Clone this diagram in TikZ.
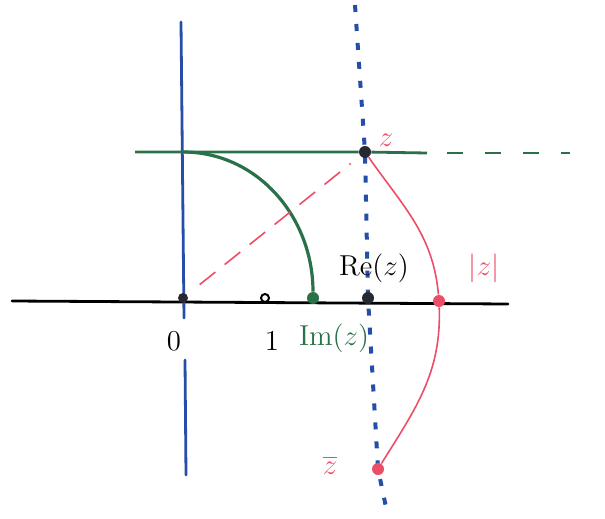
\documentclass[tikz,border=0pt]{standalone}
\usepackage{amsmath,amssymb}
\usepackage{xcolor}
\usepackage{tikz}
\usetikzlibrary{arrows.meta,positioning,calc}
\definecolor{zblue}{RGB}{38,78,168}
\definecolor{zgreen}{RGB}{42,112,72}
\definecolor{zpink}{RGB}{236,78,104}
\definecolor{zgray}{RGB}{40,40,50}
\begin{document}
\begin{tikzpicture}[
  x=0.5pt,y=-0.5pt,
  font=\Large,
  axis/.style={line width=1.4pt,line cap=round},
  dot/.style={circle,inner sep=0pt,minimum size=6pt},
  odot/.style={circle,draw,line width=1pt,inner sep=0pt,minimum size=4pt,fill=white},
  lbl/.style={inner sep=1pt},
  ]
  \useasboundingbox (0,0) rectangle (605,519);
  % points
  \coordinate (o) at (183,298);
  \coordinate (xl) at (12,301);
  \coordinate (xr) at (508,304);
  \coordinate (yt) at (181,22);
  \coordinate (yb) at (186,475);
  \coordinate (ym) at (184,318);
  \coordinate (ym2) at (185,360);
  \coordinate (gl) at (135,152);
  \coordinate (gm) at (427,153);
  \coordinate (gr) at (570,153);
  \coordinate (vt) at (355,5);
  \coordinate (vb) at (387,512);
  \coordinate (iy) at (183,152);
  % axes
  \draw[axis] (xl)--(xr);
  \draw[axis,zblue] (yt)--(ym);
  \draw[axis,zblue] (ym2)--(yb);
  \draw[zblue,line width=2pt,dash pattern=on 3.5pt off 6pt] (vt)--(365,152)--(368,298)--(378,469)--(vb);
  % z and friends
  \node[dot,fill=zgray] (z) at (365,152) {};
  \node[dot,fill=zgray] (re) at (368,298) {};
  \node[dot,fill=zgreen] (im) at (313,298) {};
  \node[dot,fill=zpink] (abs) at (439,301) {};
  \node[dot,fill=zpink] (zb) at (378,469) {};
  \node[odot] (one) at (265,298) {};
  \node[dot,fill=zgray,minimum size=5pt] (zero) at (o) {};
  \draw[zgreen,line width=1.4pt] (gl)--(z)--(gm);
  \draw[zgreen,line width=1.4pt,dash pattern=on 8pt off 11pt] ([xshift=10pt]gm)--(gr);
  \draw[zgreen,line width=1.6pt] (iy) to[out=0,in=90] (im);
  \draw[zpink,line width=0.8pt,dash pattern=on 10pt off 6pt,shorten <=8pt,shorten >=6pt] (zero)--(z);
  \draw[zpink,line width=0.8pt] (z) to[out=-55,in=95] (abs);
  \draw[zpink,line width=0.8pt] (abs) to[out=-88,in=58] (zb);
  % labels
  \node[lbl] (l0) at (174,341) {$0$};
  \node[lbl] (l1) at (272,341) {$1$};
  \node[lbl,zgreen] (lim) at (334,338) {$\mathrm{Im}(z)$};
  \node[lbl] (lre) at (374,268) {$\mathrm{Re}(z)$};
  \node[lbl,zpink] (labs) at (484,268) {$|z|$};
  \node[lbl,zpink] (lz) at (386,140) {$z$};
  \node[lbl,zpink] (lzb) at (330,465) {$\overline{z}$};
\end{tikzpicture}
\end{document}
